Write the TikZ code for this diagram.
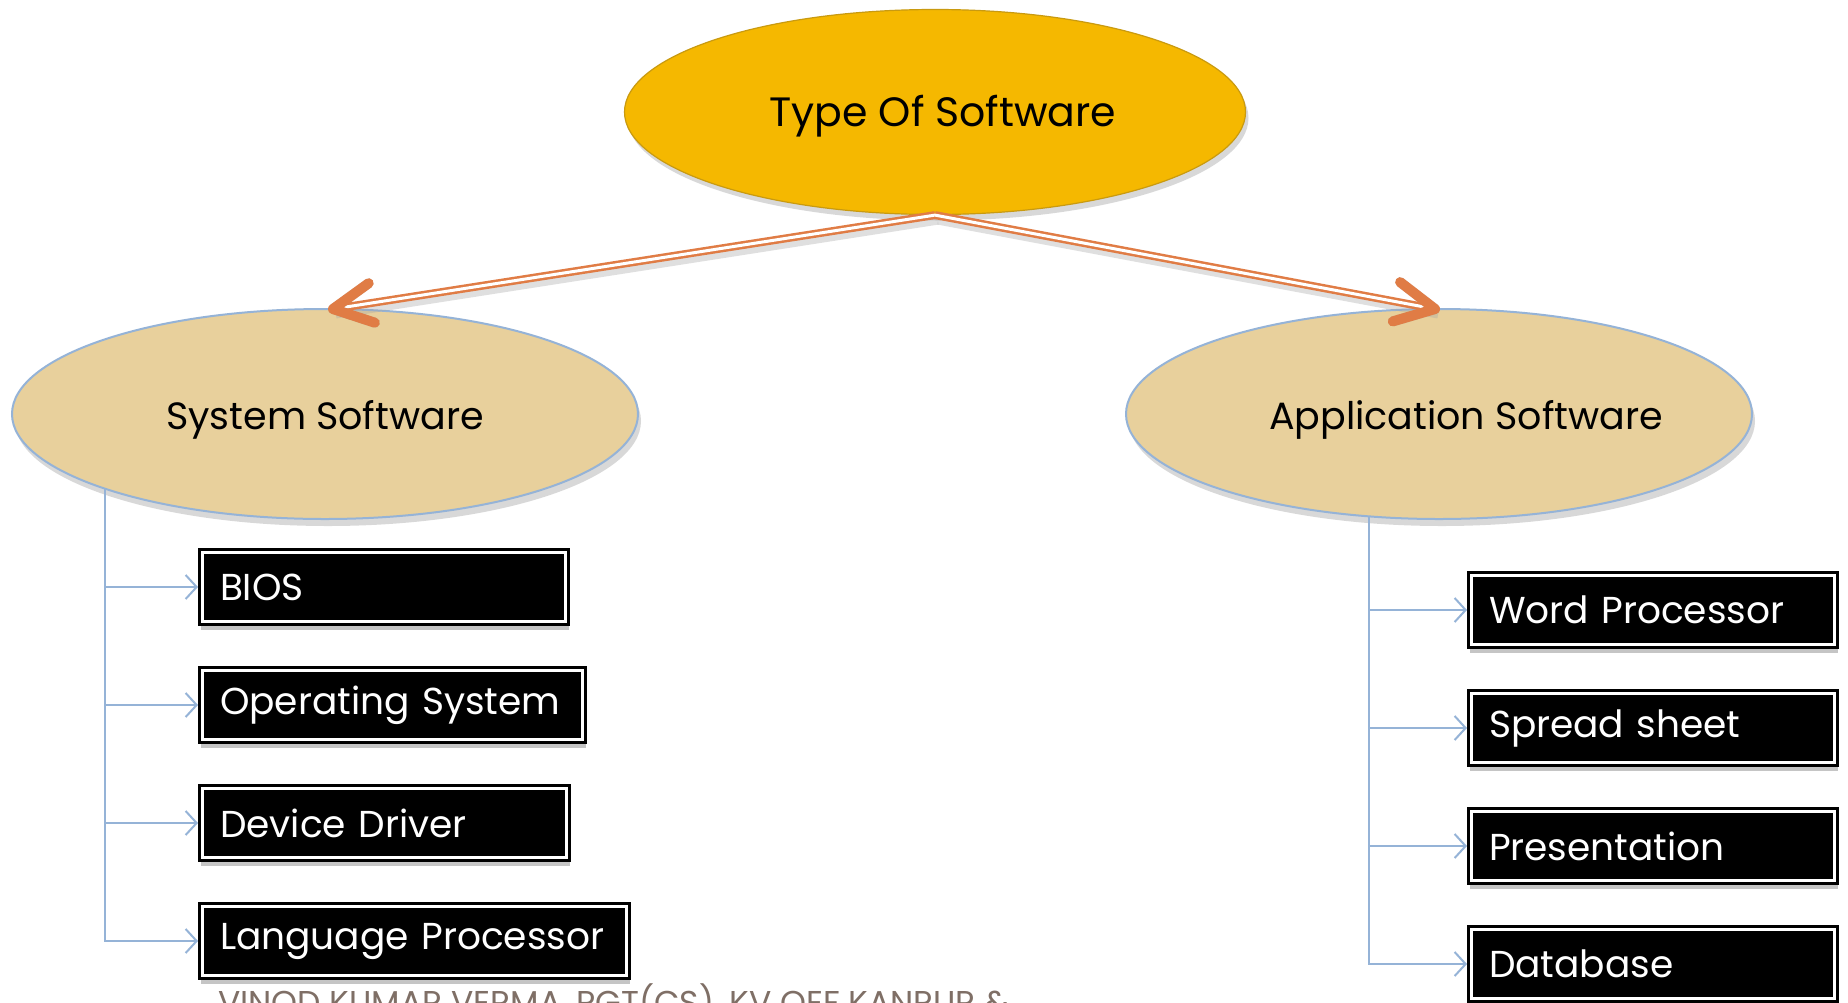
\documentclass[tikz,border=0pt]{standalone}
\usepackage{fontspec}
\setmainfont{Poppins}
\usetikzlibrary{shapes.geometric,arrows.meta,shadows,calc}
\definecolor{gold}{HTML}{F5B800}
\definecolor{goldedge}{HTML}{C99A10}
\definecolor{tanfill}{HTML}{E8D09C}
\definecolor{lineblue}{HTML}{95B3D7}
\definecolor{arrorange}{HTML}{E07C45}
\definecolor{footc}{HTML}{7F6F66}
\newcommand{\ellabel}[3]{\raisebox{-#1pt}[0pt][0pt]{\makebox[0pt]{\hspace*{#2pt}#3}}}
\tikzset{
  boxfont/.style={font=\fontsize{37.5}{45}\selectfont},
  topell/.style={ellipse, fill=gold, draw=goldedge, line width=1.2pt,
    minimum width=621pt, minimum height=205pt, font=\fontsize{41}{48}\selectfont,
    drop shadow={shadow xshift=3pt, shadow yshift=-6pt, opacity=0.3}},
  subell/.style={ellipse, fill=tanfill, draw=lineblue, line width=2pt,
    minimum width=626pt, minimum height=210pt, font=\fontsize{38}{46}\selectfont,
    drop shadow={shadow xshift=3pt, shadow yshift=-7pt, opacity=0.3}},
  itembox/.style={rectangle, fill=black, draw=black, line width=4pt,
    text=white, anchor=west, minimum height=74pt, inner xsep=20pt,
    inner ysep=0pt, align=left, text width=#1, boxfont,
    drop shadow={shadow xshift=1pt, shadow yshift=-6pt, opacity=0.45}},
  innerline/.style={draw=white, line width=2.5pt},
  conn/.style={draw=lineblue, line width=2pt,
    -{Straight Barb[length=11pt,width=24pt,line width=2pt]}},
  shaft/.style={draw=arrorange, line width=2.5pt, double=white, double distance=3pt},
  shaftshadow/.style={draw=black!35, line width=7pt, opacity=0.35},
  chevron/.style={draw=arrorange, line width=10pt, line cap=round, line join=round},
}
\begin{document}
\begin{tikzpicture}[x=1pt,y=-1pt]
\useasboundingbox (0,0) rectangle (1848,1002);
\clip (0,0) rectangle (1848,1002);
\fill[white] (0,0) rectangle (1848,1002);

% ellipses
\node[topell] (top) at (935,112) {\ellabel{14}{16}{Type Of Software}};
\node[subell] (sys) at (325,414) {\ellabel{15}{0}{System Software}};
\node[subell] (app) at (1439,414) {\ellabel{15}{54}{Application Software}};

\coordinate (sysfoot) at (105,488.7);
\coordinate (appfoot) at (1369,516.3);
\coordinate (systip) at (333,309);
\coordinate (apptip) at (1435,309);

% orange arrows
\draw[shaftshadow] ([shift={(3pt,-6pt)}]top.south) -- ([shift={(3pt,-6pt)}]systip);
\draw[shaftshadow] ([shift={(3pt,-6pt)}]top.south) -- ([shift={(3pt,-6pt)}]apptip);
\draw[shaft] (top.south) -- (systip);
\draw[shaft] (top.south) -- (apptip);
\draw[chevron, draw=black!40, opacity=0.4, shift={(3,6)}]
  ($(systip)!44pt!27:(top.south)$) -- (systip) -- ($(systip)!44pt!-27:(top.south)$);
\draw[chevron, draw=black!40, opacity=0.4, shift={(3,6)}]
  ($(apptip)!44pt!27:(top.south)$) -- (apptip) -- ($(apptip)!44pt!-27:(top.south)$);
\draw[chevron] ($(systip)!44pt!27:(top.south)$) -- (systip) -- ($(systip)!44pt!-27:(top.south)$);
\draw[chevron] ($(apptip)!44pt!27:(top.south)$) -- (apptip) -- ($(apptip)!44pt!-27:(top.south)$);

% left boxes
\node[itembox=328pt] (b1) at (198,587) {\mbox{BIOS}};
\node[itembox=345pt] (b2) at (198,705) {\mbox{Operating System}};
\node[itembox=329pt] (b3) at (198,823) {\mbox{Device Driver}};
\node[itembox=389pt] (b4) at (198,941) {\mbox{Language Processor}};

% right boxes
\node[itembox=328pt] (c1) at (1467,610) {\mbox{Word Processor}};
\node[itembox=328pt] (c2) at (1467,728) {\mbox{Spread sheet}};
\node[itembox=328pt] (c3) at (1467,846) {\mbox{Presentation}};
\node[itembox=328pt] (c4) at (1467,964) {\mbox{Database}};

\foreach \b in {b1,b2,b3,b4,c1,c2,c3,c4}
  \draw[innerline] ([shift={(4.5pt,4.5pt)}]\b.south west) rectangle ([shift={(-4.5pt,-4.5pt)}]\b.north east);

% connectors
\foreach \b in {b1,b2,b3,b4}
  \draw[conn] (sysfoot) |- (\b.west);
\foreach \b in {c1,c2,c3,c4}
  \draw[conn] (appfoot) |- (\b.west);

% footer
\node[anchor=base west, text=footc, font=\fontsize{33}{40}\selectfont, inner sep=0pt] (foot) at (218,1014)
  {VINOD KUMAR VERMA, PGT(CS), KV OEF KANPUR \&};
\end{tikzpicture}
\end{document}
